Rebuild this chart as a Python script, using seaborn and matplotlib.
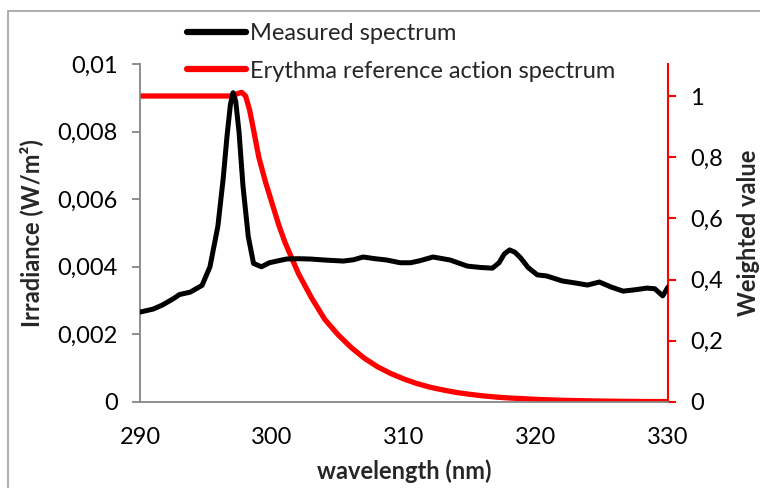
import matplotlib
matplotlib.use("Agg")
import matplotlib.pyplot as plt
import seaborn as sns
import pandas as pd
from matplotlib.patches import Rectangle
from matplotlib.lines import Line2D

sns.set_style("white")
plt.rcParams['font.family'] = ['Lato', 'DejaVu Sans']

# Measured spectrum (W/m2)
meas_wl = [290, 291, 291.7, 292.5, 293, 293.8, 294.7, 295.3, 295.9, 296.3, 296.6, 296.85,
           297.05, 297.25, 297.5, 297.8, 298.2, 298.6, 299.2, 299.8, 300.5, 301.1, 302, 302.9,
           304, 305.4, 306.2, 306.9, 307.8, 308.7, 309.7, 310.5, 311.2, 312.2, 313.5,
           314.8, 315.8, 316.7, 317.2, 317.6, 318.0, 318.4, 318.8, 319.4, 320.1, 320.8, 322.0,
           323.0, 323.9, 324.8, 325.7, 326.6, 327.5, 328.4, 329.0, 329.6, 330]
meas_val = [0.00266, 0.00275, 0.00287, 0.00305, 0.00318, 0.00325, 0.00345, 0.0040, 0.0052, 0.0066, 0.0079, 0.0088,
            0.00915, 0.0089, 0.0080, 0.0064, 0.0049, 0.0041, 0.00400, 0.00412, 0.00418, 0.00423, 0.00424, 0.00423,
            0.00420, 0.00417, 0.00421, 0.00429, 0.00424, 0.00420, 0.00412, 0.00412, 0.00418, 0.00429, 0.00420,
            0.00402, 0.00398, 0.00396, 0.00412, 0.00438, 0.00450, 0.00443, 0.00428, 0.00398, 0.00376, 0.00373, 0.00358,
            0.00352, 0.00346, 0.00355, 0.00340, 0.00328, 0.00332, 0.00337, 0.00335, 0.00314, 0.00340]

# Erythema reference action spectrum (weighted value)
ery_wl = [290, 292, 294, 296, 297, 297.4, 297.7, 298.0, 298.3, 298.6, 299, 299.5, 300, 300.5, 301, 302, 303, 304, 305, 306, 307, 308,
          309, 310, 311, 312, 313, 314, 315, 316, 317, 318, 319, 320, 322, 324, 326, 328, 330]
ery_val = [1.0, 1.0, 1.0, 1.0, 1.0, 1.008, 1.012, 1.0, 0.955, 0.89, 0.80, 0.72, 0.65, 0.58, 0.52, 0.42, 0.34, 0.27, 0.22, 0.178,
           0.143, 0.115, 0.093, 0.075, 0.060, 0.048, 0.039, 0.031, 0.025, 0.020, 0.016, 0.013,
           0.011, 0.0086, 0.0056, 0.0037, 0.0024, 0.0016, 0.0014]

left_ticks = [0, 0.002, 0.004, 0.006, 0.008, 0.01]
left_labels = ["0", "0,002", "0,004", "0,006", "0,008", "0,01"]
right_ticks = [0, 0.2, 0.4, 0.6, 0.8, 1.0]
right_labels = ["0", "0,2", "0,4", "0,6", "0,8", "1"]
x_ticks = [290, 300, 310, 320, 330]

df_m = pd.DataFrame({"wl": meas_wl, "val": meas_val})
df_e = pd.DataFrame({"wl": ery_wl, "val": ery_val})

FS = 17

fig = plt.figure(figsize=(7.6, 4.88), dpi=100)
ax = fig.add_axes([140/760, 1-402/488, (668-140)/760, (402-64)/488])
ax2 = ax.twinx()

sns.lineplot(data=df_m, x="wl", y="val", ax=ax, color="black", lw=3.6, sort=False, zorder=3)
sns.lineplot(data=df_e, x="wl", y="val", ax=ax2, color="#ff0000", lw=3.8, sort=False)
for l in ax.lines + ax2.lines:
    l.set_solid_joinstyle('round')
    l.set_solid_capstyle('round')
ax.set_zorder(ax2.get_zorder() + 1)
ax.patch.set_visible(False)

gray = "#868686"
ax.set_xlim(290, 330)
ax.set_ylim(0, 0.01)
ax2.set_ylim(0, 1.1046)
ax.set_xticks(x_ticks)
ax.set_xticklabels([str(t) for t in x_ticks])
ax.set_yticks(left_ticks)
ax.set_yticklabels(left_labels)
ax2.set_yticks(right_ticks)
ax2.set_yticklabels(right_labels)

for a in (ax, ax2):
    a.spines['top'].set_visible(False)
    a.spines['right'].set_visible(False)
ax2.spines['left'].set_visible(False)
ax2.spines['bottom'].set_visible(False)
ax.spines['left'].set_color(gray)
ax.spines['bottom'].set_color(gray)
ax.spines['left'].set_linewidth(1.3)
ax.spines['bottom'].set_linewidth(1.3)
ax2.spines['right'].set_visible(True)
ax2.spines['right'].set_color("#ff0000")
ax2.spines['right'].set_linewidth(1.5)

ax.tick_params(axis='y', which='both', direction='out', length=6, width=1.3, color=gray,
               labelsize=FS, pad=10, left=True, labelcolor='black')
ax.tick_params(axis='x', length=0, labelsize=FS, pad=18, labelcolor='black')
ax2.tick_params(axis='y', direction='out', length=6, width=1.5, color="#ff0000",
                labelsize=FS, pad=10, right=True, labelcolor='black')

ax.set_xlabel("wavelength (nm)", fontsize=FS, fontweight='bold', labelpad=8)
ax.set_ylabel("Irradiance (W/m²)", fontsize=FS, fontweight='bold', labelpad=10)
ax2.set_ylabel("Weighted value", fontsize=FS, fontweight='bold', labelpad=10)

handles = [Line2D([0], [0], color='black', lw=4.5),
           Line2D([0], [0], color='#ff0000', lw=4.5)]
fig.legend(handles, ["Measured spectrum", "Erythma reference action spectrum"],
           loc='upper left', bbox_to_anchor=(178/760, 1-14/488), frameon=False,
           fontsize=FS, handlelength=2.5, handletextpad=0.15, labelspacing=0.68,
           borderaxespad=0)

fig.patches.append(Rectangle((8/760, -0.1), 1.1, (488-11)/488 + 0.1, transform=fig.transFigure,
                             fill=False, edgecolor="#a0a0a0", lw=1.2, zorder=0))

fig.savefig("out.png", dpi=100)
